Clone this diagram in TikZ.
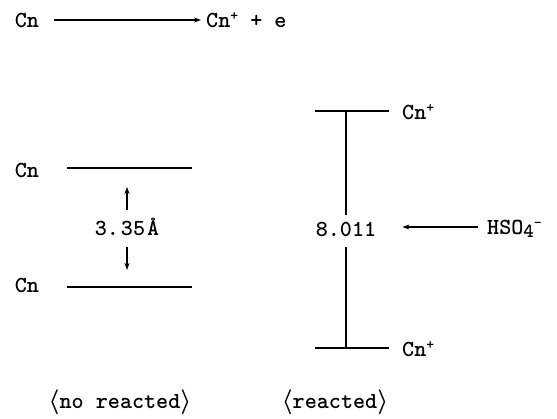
\documentclass[tikz,border=0pt]{standalone}
\usepackage{tikz}
\usetikzlibrary{arrows.meta,positioning}
\newcommand{\lowfour}{\raisebox{-3pt}{\fontsize{20}{22}\selectfont 4}}
\newcommand{\upsign}[1]{\raisebox{7pt}{\fontsize{15}{17}\selectfont #1}}

\begin{document}
\begin{tikzpicture}[x=1pt,y=-1pt,
    every node/.style={font=\ttfamily\bfseries\boldmath\fontsize{23}{27}\selectfont,inner sep=0pt},
    level/.style={line width=1.1pt},
    arr/.style={line width=1.1pt,-{Stealth[length=7pt,width=5pt]}}]
  \useasboundingbox (0,0) rectangle (557,418);
  % ionisation
  \node (cn0) at (27,20) {Cn};
  \node[anchor=west] (cnp0) at (206,20) {Cn\upsign{+} + e};
  \draw[arr] ([xshift=15pt]cn0.east) -- ([xshift=-5pt]cnp0.west);
  % not reacted
  \node (cnA) at (27,170) {Cn};
  \node (cnB) at (27,285) {Cn};
  \coordinate (la1) at (67,168);  \coordinate (la2) at (192,168);
  \coordinate (lb1) at (67,287);  \coordinate (lb2) at (192,287);
  \draw[level] (la1) -- (la2);
  \draw[level] (lb1) -- (lb2);
  \node (gapA) at (127,227) {3.\kern2pt35\kern2pt\AA};
  \draw[arr] ([yshift=17pt]gapA.center) -- ++(0,-23);
  \draw[arr] ([yshift=-20pt]gapA.center) -- ++(0,23);
  % reacted
  \coordinate (ra1) at (315,111); \coordinate (ra2) at (389,111);
  \coordinate (rb1) at (315,348); \coordinate (rb2) at (389,348);
  \draw[level] (ra1) -- (ra2);
  \draw[level] (rb1) -- (rb2);
  \node[anchor=west] (cnpA) at (402,112) {Cn\upsign{+}};
  \node[anchor=west] (cnpB) at (402,349) {Cn\upsign{+}};
  \node (gapB) at (346,229) {8.011};
  \draw[level] ([yshift=14pt]gapB.center) -- (gapB.center |- ra1);
  \draw[level] ([yshift=-18pt]gapB.center) -- (gapB.center |- rb1);
  \node[anchor=west] (hso) at (487,229) {HSO\lowfour\upsign{-}};
  \draw[arr] ([xshift=-9pt,yshift=2pt]hso.west) -- ([xshift=26pt,yshift=2pt]gapB.east);
  % captions
  \node (capA) at (120,402) {$\langle$no reacted$\rangle$};
  \node (capB) at (335,402) {$\langle$reacted$\rangle$};
\end{tikzpicture}
\end{document}
